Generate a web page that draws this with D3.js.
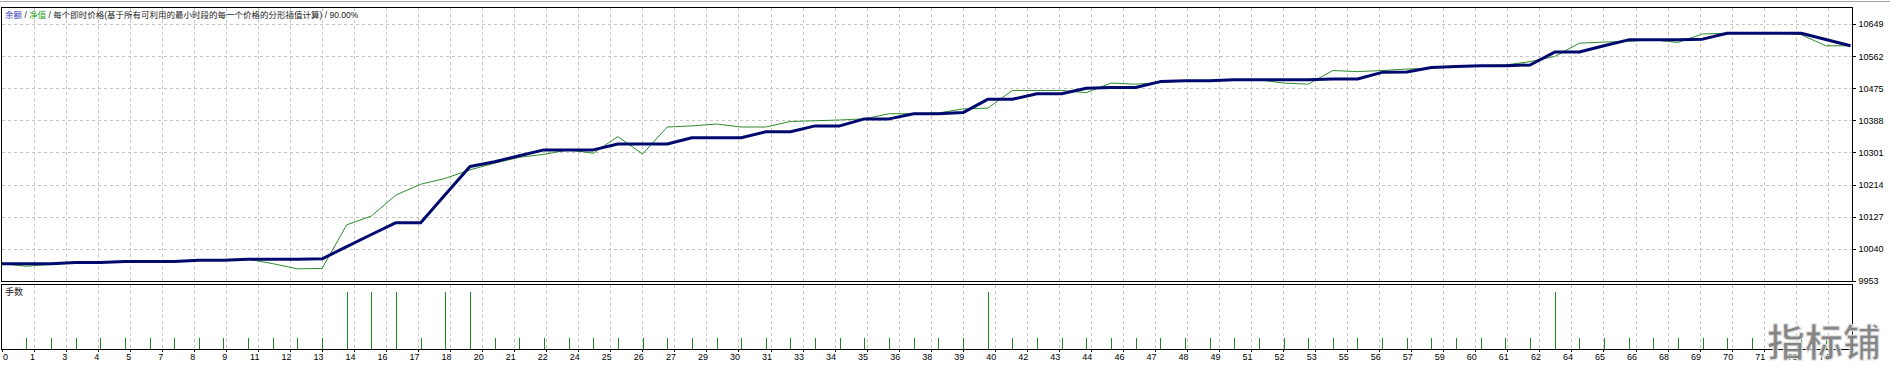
<!DOCTYPE html>
<html>
<head>
<meta charset="utf-8">
<script src="https://cdn.jsdelivr.net/npm/d3@7"></script>
<style>
  html, body { margin: 0; padding: 0; background: #fff; }
  svg { display: block; }
</style>
</head>
<body>
<svg id="chart"></svg>
<script>
// balance / equity per trade number (0 = deposit)
var balance = [10000, 10000, 10000, 10003, 10003, 10006, 10006, 10006, 10009, 10009,
    10012, 10012, 10012, 10013, 10046, 10079, 10111, 10111, 10187, 10263,
    10276, 10292, 10308, 10308, 10308, 10324, 10324, 10324, 10341, 10341,
    10341, 10357, 10357, 10373, 10373, 10392, 10392, 10406, 10406, 10409,
    10445, 10445, 10460, 10460, 10475, 10477, 10477, 10493, 10495, 10495,
    10498, 10498, 10498, 10498, 10500, 10500, 10518, 10519, 10531, 10534,
    10536, 10536, 10538, 10573, 10573, 10590, 10606, 10606, 10606, 10608,
    10624, 10624, 10624, 10624, 10607, 10590];

var equity = [10000, 9993, 9998, 10003, 10003, 10006, 10006, 10006, 10009, 10009,
    10012, 10000, 9986, 9987, 10105, 10129, 10186, 10215, 10231, 10254,
    10272, 10288, 10296, 10308, 10299, 10344, 10297, 10370, 10373, 10378,
    10370, 10370, 10385, 10387, 10389, 10392, 10406, 10406, 10408, 10419,
    10421, 10469, 10469, 10469, 10463, 10489, 10486, 10490, 10495, 10495,
    10498, 10498, 10489, 10486, 10523, 10520, 10523, 10527, 10529, 10534,
    10536, 10538, 10547, 10561, 10597, 10600, 10602, 10606, 10599, 10622,
    10624, 10626, 10626, 10620, 10590, 10590];

// lots of trades 1..74
var lots = [0.1, 0.1, 0.1, 0.1, 0.1, 0.1, 0.1, 0.1, 0.1, 0.1,
    0.1, 0.1, 0.1, 0.5, 0.5, 0.5, 0.1, 0.5, 0.5, 0.1,
    0.1, 0.1, 0.1, 0.1, 0.1, 0.1, 0.1, 0.1, 0.1, 0.1,
    0.1, 0.1, 0.1, 0.1, 0.1, 0.1, 0.1, 0.1, 0.1, 0.5,
    0.1, 0.1, 0.1, 0.1, 0.1, 0.1, 0.1, 0.1, 0.1, 0.1,
    0.1, 0.1, 0.1, 0.1, 0.1, 0.1, 0.1, 0.1, 0.1, 0.1,
    0.1, 0.1, 0.5, 0.1, 0.1, 0.1, 0.1, 0.1, 0.1, 0.1,
    0.1, 0.1, 0.1, 0.1];

var xLabels = ['0', '1', '3', '4', '5', '7', '8', '9', '11', '12', '13', '14', '16', '17', '18',
    '20', '21', '22', '24', '25', '26', '27', '29', '30', '31', '33', '34', '35', '36', '38',
    '39', '40', '42', '43', '44', '46', '47', '48', '49', '51', '52', '53', '55', '56', '57',
    '59', '60', '61', '62', '64', '65', '66', '68', '69', '70', '71', '73', '74'];

var yTicks = [9953, 10040, 10127, 10214, 10301, 10388, 10475, 10562, 10649];

(function(window, d3, undefined) {
    'use strict';

    var width = 1890;
    var height = 366;
    var plotLeft = 1.5;
    var plotRight = 1852.5;
    var mainTop = 7.5;
    var mainBottom = 281.5;
    var lotsTop = 284.5;
    var lotsBottom = 349.5;
    var gridStep = 1.2996; // trades per grid cell
    var font = "Tahoma, 'Liberation Sans', 'Noto Sans CJK SC', sans-serif";

    var svg = d3.select('#chart')
        .attr('width', width)
        .attr('height', height)
        .style('font-family', font);

    svg.append('rect')
        .attr('width', width)
        .attr('height', height)
        .attr('fill', '#fff');

    var scaleX = d3.scaleLinear()
        .domain([0, balance.length - 1])
        .range([1.6, 1850.5]);

    var gridX = d3.scaleLinear()
        .domain([0, 1])
        .range([scaleX(0), scaleX(gridStep)]);

    var scaleY = d3.scaleLinear()
        .domain([9953, 10695])
        .range([281, 7]);

    var scaleLots = d3.scaleLinear()
        .domain([0, 0.575])
        .range([349, 284]);

    var gridIdx = d3.range(xLabels.length);

    // outer window edge
    svg.append('line')
        .attr('x1', 0).attr('x2', width)
        .attr('y1', 1.5).attr('y2', 1.5)
        .attr('stroke', '#a8a8a8');

    // grid
    var grid = svg.append('g')
        .attr('stroke', '#c4c4c4')
        .attr('stroke-dasharray', '3,3')
        .attr('shape-rendering', 'crispEdges');

    grid.selectAll('line.h')
        .data(yTicks.slice(1))
        .enter().append('line')
        .attr('class', 'h')
        .attr('x1', plotLeft).attr('x2', plotRight)
        .attr('y1', function (d) { return Math.round(scaleY(d)) + 0.5; })
        .attr('y2', function (d) { return Math.round(scaleY(d)) + 0.5; });

    grid.selectAll('line.v')
        .data(gridIdx.slice(1))
        .enter().append('line')
        .attr('class', 'v')
        .attr('x1', function (d) { return Math.round(gridX(d)) + 0.5; })
        .attr('x2', function (d) { return Math.round(gridX(d)) + 0.5; })
        .attr('y1', mainTop).attr('y2', mainBottom);

    grid.selectAll('line.vl')
        .data(gridIdx.slice(1))
        .enter().append('line')
        .attr('class', 'vl')
        .attr('x1', function (d) { return Math.round(gridX(d)) + 0.5; })
        .attr('x2', function (d) { return Math.round(gridX(d)) + 0.5; })
        .attr('y1', lotsTop).attr('y2', lotsBottom);

    // lots bars
    svg.append('g')
        .attr('stroke', '#1a8a1a')
        .attr('shape-rendering', 'crispEdges')
        .selectAll('line')
        .data(lots)
        .enter().append('line')
        .attr('x1', function (d, i) { return Math.round(scaleX(i + 1)) + 0.5; })
        .attr('x2', function (d, i) { return Math.round(scaleX(i + 1)) + 0.5; })
        .attr('y1', scaleLots(0))
        .attr('y2', function (d) { return scaleLots(d); });

    // equity + balance lines
    var line = d3.line()
        .x(function (d, i) { return scaleX(i); })
        .y(function (d) { return scaleY(d); })
        .curve(d3.curveLinear);

    svg.append('clipPath').attr('id', 'mainClip')
        .append('rect')
        .attr('x', plotLeft).attr('y', mainTop)
        .attr('width', plotRight - plotLeft).attr('height', mainBottom - mainTop);

    var lines = svg.append('g').attr('clip-path', 'url(#mainClip)');

    lines.append('path')
        .datum(equity)
        .attr('d', line)
        .attr('fill', 'none')
        .attr('stroke', '#2e8b2e')
        .attr('stroke-width', 1);

    lines.append('path')
        .datum(balance)
        .attr('d', line)
        .attr('fill', 'none')
        .attr('stroke', '#000a6e')
        .attr('stroke-width', 3)
        .attr('stroke-linejoin', 'round');

    // frames
    var frames = svg.append('g')
        .attr('fill', 'none')
        .attr('stroke', '#000')
        .attr('shape-rendering', 'crispEdges');

    frames.append('rect')
        .attr('x', plotLeft).attr('y', mainTop)
        .attr('width', plotRight - plotLeft).attr('height', mainBottom - mainTop);

    frames.append('rect')
        .attr('x', plotLeft).attr('y', lotsTop)
        .attr('width', plotRight - plotLeft).attr('height', lotsBottom - lotsTop);

    // right price axis
    var yAxis = svg.append('g')
        .attr('transform', 'translate(' + plotRight + ',0)')
        .call(d3.axisRight(scaleY).tickValues(yTicks).tickSize(3).tickPadding(3).tickFormat(d3.format('d')));
    yAxis.select('.domain').remove();
    yAxis.selectAll('text')
        .attr('font-size', 9)
        .attr('font-family', font)
        .attr('fill', '#000');
    yAxis.selectAll('line').attr('shape-rendering', 'crispEdges');

    // bottom trade axis, labels right-aligned to grid lines
    var xAxis = svg.append('g')
        .attr('transform', 'translate(0,' + lotsBottom + ')')
        .call(d3.axisBottom(gridX).tickValues(gridIdx).tickSize(2).tickPadding(2)
            .tickFormat(function (d) { return xLabels[d]; }));
    xAxis.select('.domain').remove();
    xAxis.selectAll('line').attr('shape-rendering', 'crispEdges');
    xAxis.selectAll('text')
        .attr('font-size', 9)
        .attr('font-family', font)
        .attr('fill', '#000')
        .attr('text-anchor', function (d) { return d === 0 ? 'start' : 'end'; })
        .attr('dx', 1);

    // legend
    var legend = svg.append('text')
        .attr('x', 5)
        .attr('y', 18)
        .attr('font-size', 8.5)
        .attr('font-family', font)
        .attr('fill', '#222');
    legend.append('tspan').attr('fill', '#3a3ab8').text('余额');
    legend.append('tspan').text(' / ');
    legend.append('tspan').attr('fill', '#22a022').text('净值');
    legend.append('tspan').text(' / 每个即时价格(基于所有可利用的最小时段的每一个价格的分形插值计算) / 90.00%');

    svg.append('text')
        .attr('x', 5)
        .attr('y', 295)
        .attr('font-size', 9)
        .attr('font-family', font)
        .attr('fill', '#222')
        .text('手数');

    // watermark
    svg.append('text')
        .attr('x', 1767)
        .attr('y', 356)
        .attr('font-size', 38)
        .attr('font-weight', 'bold')
        .attr('font-family', "'Noto Sans CJK SC', sans-serif")
        .attr('fill', '#808080')
        .attr('stroke', '#e8e8e8')
        .attr('stroke-width', 1)
        .attr('opacity', 0.95)
        .text('指标铺');

}(window, window.d3));
</script>
</body>
</html>
